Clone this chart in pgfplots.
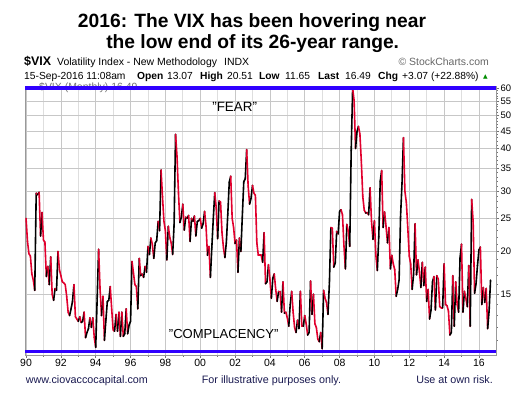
\documentclass[border=0pt]{standalone}
\usepackage{pgfplots}
\usepackage{pgfplotstable}
\pgfplotsset{compat=1.18}
\usepackage{fontspec}
\setmainfont{Liberation Sans}
\newfontfamily\dejavu{DejaVu Sans}
\definecolor{vixred}{RGB}{225,0,45}
\definecolor{vixblue}{RGB}{48,0,255}
\definecolor{footblue}{RGB}{25,25,80}

% Monthly closes of the VIX, i = months since Jan 1990
\pgfplotstableread[row sep=\\]{
i v\\
0 25.0\\ 1 21.4\\ 2 19.7\\ 3 19.4\\ 4 17.2\\ 5 16.5\\ 6 15.4\\ 7 29.6\\ 8 29.3\\ 9 29.8\\ 10 22.2\\ 11 26.0\\
12 21.6\\ 13 21.3\\ 14 16.9\\ 15 18.1\\ 16 16.0\\ 17 19.3\\ 18 15.0\\ 19 14.4\\ 20 15.6\\ 21 15.4\\ 22 20.0\\ 23 17.7\\
24 17.0\\ 25 16.3\\ 26 16.2\\ 27 16.0\\ 28 14.8\\ 29 13.3\\ 30 13.0\\ 31 13.6\\ 32 14.3\\ 33 16.0\\ 34 12.9\\ 35 12.7\\
36 12.5\\ 37 12.9\\ 38 12.4\\ 39 12.5\\ 40 13.3\\ 41 11.2\\ 42 11.6\\ 43 11.9\\ 44 12.8\\ 45 12.0\\ 46 12.8\\ 47 11.2\\
48 10.5\\ 49 14.6\\ 50 20.3\\ 51 15.5\\ 52 13.0\\ 53 14.8\\ 54 11.0\\ 55 12.6\\ 56 14.3\\ 57 14.4\\ 58 15.8\\ 59 13.6\\
60 11.8\\ 61 11.7\\ 62 13.1\\ 63 11.7\\ 64 13.3\\ 65 11.3\\ 66 13.3\\ 67 11.3\\ 68 11.5\\ 69 13.6\\ 70 11.5\\ 71 12.2\\
72 12.5\\ 73 18.7\\ 74 17.3\\ 75 16.0\\ 76 15.8\\ 77 13.6\\ 78 19.1\\ 79 17.0\\ 80 17.2\\ 81 16.8\\ 82 18.1\\ 83 17.4\\
84 20.7\\ 85 19.6\\ 86 21.9\\ 87 21.0\\ 88 19.1\\ 89 21.2\\ 90 21.5\\ 91 24.5\\ 92 23.0\\ 93 34.6\\ 94 28.9\\ 95 24.5\\
96 23.0\\ 97 18.9\\ 98 23.7\\ 99 22.0\\ 100 21.2\\ 101 19.6\\ 102 24.0\\ 103 44.0\\ 104 38.0\\ 105 29.7\\ 106 24.3\\ 107 25.2\\
108 27.5\\ 109 23.1\\ 110 25.2\\ 111 25.0\\ 112 25.5\\ 113 21.4\\ 114 25.0\\ 115 24.5\\ 116 25.4\\ 117 22.2\\ 118 24.5\\ 119 24.6\\
120 25.0\\ 121 23.4\\ 122 24.1\\ 123 26.2\\ 124 23.7\\ 125 19.5\\ 126 20.7\\ 127 16.8\\ 128 20.6\\ 129 25.0\\ 130 29.7\\ 131 26.9\\
132 21.8\\ 133 28.1\\ 134 27.9\\ 135 22.7\\ 136 20.5\\ 137 19.2\\ 138 21.3\\ 139 25.8\\ 140 31.9\\ 141 33.2\\ 142 25.0\\ 143 23.5\\
144 21.1\\ 145 21.6\\ 146 17.4\\ 147 21.9\\ 148 20.0\\ 149 25.4\\ 150 32.0\\ 151 32.6\\ 152 39.7\\ 153 31.1\\ 154 27.5\\ 155 28.6\\
156 31.2\\ 157 29.6\\ 158 29.2\\ 159 21.2\\ 160 19.5\\ 161 19.5\\ 162 19.5\\ 163 18.6\\ 164 22.7\\ 165 16.1\\ 166 16.3\\ 167 18.3\\
168 16.6\\ 169 14.6\\ 170 16.7\\ 171 17.2\\ 172 15.5\\ 173 14.3\\ 174 15.3\\ 175 15.3\\ 176 13.3\\ 177 16.3\\ 178 13.2\\ 179 13.3\\
180 12.8\\ 181 12.1\\ 182 14.0\\ 183 15.3\\ 184 13.3\\ 185 12.0\\ 186 11.6\\ 187 12.6\\ 188 11.9\\ 189 15.3\\ 190 12.1\\ 191 12.1\\
192 13.0\\ 193 12.3\\ 194 11.4\\ 195 11.6\\ 196 16.4\\ 197 13.1\\ 198 15.0\\ 199 12.3\\ 200 12.0\\ 201 11.1\\ 202 10.9\\ 203 11.6\\
204 10.4\\ 205 15.4\\ 206 14.6\\ 207 14.2\\ 208 13.1\\ 209 16.2\\ 210 23.5\\ 211 23.4\\ 212 18.0\\ 213 18.5\\ 214 22.9\\ 215 22.5\\
216 26.2\\ 217 26.5\\ 218 25.6\\ 219 20.8\\ 220 17.8\\ 221 24.0\\ 222 22.9\\ 223 20.7\\ 224 39.4\\ 225 59.9\\ 226 55.3\\ 227 40.0\\
228 44.8\\ 229 46.4\\ 230 44.1\\ 231 36.5\\ 232 28.9\\ 233 26.4\\ 234 25.9\\ 235 26.0\\ 236 25.6\\ 237 30.7\\ 238 24.5\\ 239 21.7\\
240 24.6\\ 241 19.5\\ 242 17.6\\ 243 22.1\\ 244 32.1\\ 245 34.5\\ 246 23.5\\ 247 26.1\\ 248 23.7\\ 249 21.2\\ 250 23.5\\ 251 17.8\\
252 19.5\\ 253 18.4\\ 254 17.7\\ 255 14.8\\ 256 15.5\\ 257 16.5\\ 258 25.3\\ 259 31.6\\ 260 43.0\\ 261 30.0\\ 262 27.8\\ 263 23.4\\
264 19.4\\ 265 18.4\\ 266 15.5\\ 267 17.2\\ 268 24.1\\ 269 17.1\\ 270 18.9\\ 271 17.5\\ 272 15.7\\ 273 18.6\\ 274 15.9\\ 275 18.0\\
276 14.3\\ 277 15.5\\ 278 12.7\\ 279 13.5\\ 280 16.3\\ 281 16.9\\ 282 13.5\\ 283 17.0\\ 284 16.6\\ 285 13.8\\ 286 13.7\\ 287 13.7\\
288 18.4\\ 289 14.0\\ 290 13.9\\ 291 13.4\\ 292 11.4\\ 293 11.6\\ 294 17.0\\ 295 12.1\\ 296 16.3\\ 297 14.0\\ 298 13.3\\ 299 19.2\\
300 21.0\\ 301 13.3\\ 302 15.3\\ 303 14.6\\ 304 13.8\\ 305 18.2\\ 306 12.1\\ 307 28.4\\ 308 24.5\\ 309 15.1\\ 310 16.1\\ 311 18.2\\
312 20.2\\ 313 20.6\\ 314 14.0\\ 315 15.7\\ 316 14.2\\ 317 15.6\\ 318 11.9\\ 319 13.4\\ 320 16.5\\
}\vixdata

% direction of the segment that starts at each month: 1 = up (black), 0 = down (red)
\pgfplotstablegetrowsof{\vixdata}
\pgfmathtruncatemacro{\lastrow}{\pgfplotsretval-1}
\pgfplotstablecreatecol[create col/assign/.code={%
  \ifnum\pgfplotstablerow=\lastrow\relax
    \def\entry{0}%
  \else
    \getthisrow{v}\cur
    \getnextrow{v}\nxt
    \pgfmathparse{\nxt>\cur ? 1 : 0}%
    \let\entry\pgfmathresult
  \fi
  \pgfkeyslet{/pgfplots/table/create col/next content}\entry
}]{up}{\vixdata}

\begin{document}
\begin{tikzpicture}
\useasboundingbox (0,0) rectangle (530bp,396bp);
% title
\node[anchor=base, inner sep=0, font=\fontsize{19.3}{22}\selectfont\bfseries] at (252bp,368.7bp) {2016: The VIX has been hovering near};
\node[anchor=base, inner sep=0, font=\fontsize{19.3}{22}\selectfont\bfseries] at (252.7bp,347.7bp) {the low end of its 26-year range.};
% header line 1
\node[anchor=base west, inner sep=0, font=\fontsize{12.5}{14}\selectfont\bfseries] at (24bp,330bp) {\$VIX};
\node[anchor=base west, inner sep=0, font=\fontsize{10.5}{12}\selectfont] at (57bp,330bp) {Volatility Index - New Methodology};
\node[anchor=base west, inner sep=0, font=\fontsize{10.5}{12}\selectfont] at (224bp,330bp) {INDX};
\node[anchor=base east, inner sep=0, text=black!60, font=\fontsize{10.5}{12}\selectfont] at (489bp,330bp) {© StockCharts.com};
% header line 2
\begin{scope}[every node/.style={anchor=base west, inner sep=0, font=\fontsize{10.3}{12}\selectfont}]
\node at (24bp,316.5bp) {15-Sep-2016 11:08am};
\node[font=\fontsize{10.3}{12}\selectfont\bfseries] at (137bp,316.5bp) {Open};
\node at (167bp,316.5bp) {13.07};
\node[font=\fontsize{10.3}{12}\selectfont\bfseries] at (200bp,316.5bp) {High};
\node at (227bp,316.5bp) {20.51};
\node[font=\fontsize{10.3}{12}\selectfont\bfseries] at (259bp,316.5bp) {Low};
\node at (285bp,316.5bp) {11.65};
\node[font=\fontsize{10.3}{12}\selectfont\bfseries] at (318bp,316.5bp) {Last};
\node at (345bp,316.5bp) {16.49};
\node[font=\fontsize{10.3}{12}\selectfont\bfseries] at (378bp,316.5bp) {Chg};
\node at (402bp,316.5bp) {+3.07 (+22.88\%)};
\node[text=green!55!black, font=\dejavu\fontsize{6}{7}\selectfont] at (483bp,317.5bp) {▲};
\end{scope}
% in-chart label, partly hidden by the blue line
\node[anchor=base west, inner sep=0, text=black!55, font=\fontsize{10.5}{12}\selectfont] at (39bp,305.5bp) {\$VIX (Monthly) 16.49};

\begin{axis}[
  at={(25bp,41bp)}, anchor=south west,
  width=471bp, height=269bp, scale only axis,
  xmin=1989.94, xmax=2016.98,
  ymode=log, ymin=9.97, ymax=60.9,
  xtick={1990,1992,...,2016},
  xticklabels={{90},{92},{94},{96},{98},{00},{02},{04},{06},{08},{10},{12},{14},{16}},
  minor xtick={1991,1993,...,2015},
  ytick={15,20,25,30,35,40,45,50,55,60},
  yticklabels={{15},{20},{25},{30},{35},{40},{45},{50},{55},{60}},
  minor ytick={11,12,...,59},
  xtick pos=left, ytick pos=right, yticklabel pos=right,
  tick align=outside,
  major tick length=3bp, minor tick length=1.8bp,
  xmajorgrids, xminorgrids, ymajorgrids,
  major grid style={line width=0.7bp, draw=black!22},
  minor grid style={line width=0.7bp, draw=black!13},
  axis line style={draw=black!40, line width=0.7bp},
  tick style={draw=black!55, line width=0.5bp},
  /pgf/number format/assume math mode=true,
  xticklabel style={font=\fontsize{10.5}{12}\selectfont, inner sep=1bp},
  yticklabel style={font=\fontsize{9.5}{11}\selectfont, inner sep=1.5bp},
  colormap={updown}{color=(vixred) color=(black)},
  point meta min=0, point meta max=1,
]
\addplot[mesh, shader=flat corner, point meta=explicit, line width=1.6bp,
  line cap=round, line join=round]
  table[x expr=1990+\thisrow{i}/12, y=v, meta=up] {\vixdata};
\addplot[draw=vixblue, line width=3.6bp, forget plot] coordinates {(1989.94,60) (2016.98,60)};
\addplot[draw=vixblue, line width=3.6bp, forget plot] coordinates {(1989.94,10.2) (2016.98,10.2)};
\end{axis}

\node[anchor=base, inner sep=0, font=\fontsize{13.5}{15}\selectfont] at (234.7bp,284.5bp) {"FEAR"};
\node[anchor=base, inner sep=0, font=\fontsize{13.1}{15}\selectfont] at (223.7bp,57.7bp) {"COMPLACENCY"};
% footer
\begin{scope}[every node/.style={inner sep=0, text=footblue, font=\fontsize{10.8}{12}\selectfont}]
\node[anchor=base west] at (25.7bp,13bp) {www.ciovaccocapital.com};
\node[anchor=base west] at (201.7bp,13bp) {For illustrative purposes only.};
\node[anchor=base east] at (493bp,13bp) {Use at own risk.};
\end{scope}
\end{tikzpicture}
\end{document}
